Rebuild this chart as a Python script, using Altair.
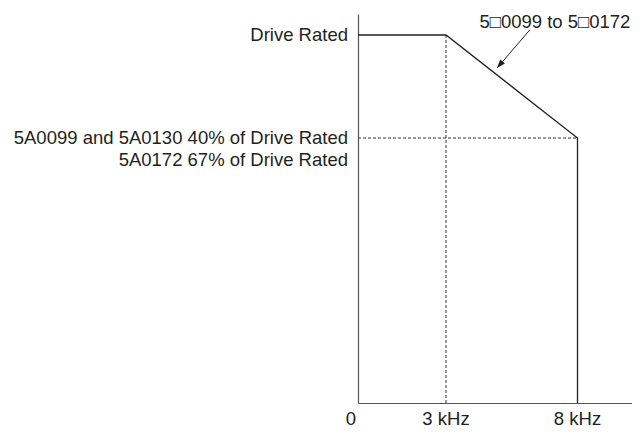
import altair as alt
import pandas as pd

# Schematic derating curve (x in kHz, y in % of the drawing height units)
curve_x = [0, 3, 8, 8]
curve_y = [100, 100, 72, 0]
curve_order = [0, 1, 2, 3]

# x scale is schematic (not to scale in the original)
x_domain = [0, 3, 8, 10.07]
x_range = [0, 88, 219.5, 274]
y_domain = [0, 105.7]

rated_level = 100
derated_level = 72
corner_khz = 3
max_khz = 8

tick_values = [3, 8]
tick_labels = ["3 kHz", "8 kHz"]

left_label_y = [100, 72]
left_label_text = [["Drive Rated"],
                   ["5A0099 and 5A0130 40% of Drive Rated", "5A0172 67% of Drive Rated"]]

note_text = "5\u25a10099 to 5\u25a10172"
arrow_x = [6.19, 4.94]
arrow_y = [101.4, 91]
note_x = 7.14
note_y = 103.6

FONT = "Liberation Sans"
TXT = "#231f20"
FS = 18.5

xs = alt.Scale(domain=x_domain, range=x_range, nice=False, zero=False)
ys = alt.Scale(domain=y_domain, nice=False, zero=False)
xax = alt.Axis(labels=False, ticks=False, grid=False, title=None, domainColor="#555555", domainWidth=1.2)
yax = alt.Axis(labels=False, ticks=False, grid=False, title=None, domainColor="#555555", domainWidth=1.2)

curve_df = pd.DataFrame({"x": curve_x, "y": curve_y, "o": curve_order})
curve = alt.Chart(curve_df).mark_line(color="#231f20", strokeWidth=1.3).encode(
    x=alt.X("x:Q", scale=xs, axis=xax),
    y=alt.Y("y:Q", scale=ys, axis=yax),
    order="o:Q",
)

vdash = alt.Chart(pd.DataFrame({"x": [corner_khz], "y": [0], "y2": [rated_level]})).mark_rule(
    color="#333333", strokeWidth=1, strokeDash=[3, 2]
).encode(x=alt.X("x:Q", scale=xs), y=alt.Y("y:Q", scale=ys), y2="y2:Q")

hdash = alt.Chart(pd.DataFrame({"x": [0], "x2": [max_khz], "y": [derated_level]})).mark_rule(
    color="#333333", strokeWidth=1, strokeDash=[3, 2]
).encode(x=alt.X("x:Q", scale=xs), x2="x2:Q", y=alt.Y("y:Q", scale=ys))

left_df = pd.DataFrame({"y": left_label_y, "t": left_label_text, "x": [0, 0]})
left = alt.Chart(left_df).mark_text(
    align="right", baseline="middle", dx=-10, font=FONT, fontSize=FS, color=TXT, lineHeight=22
).encode(x=alt.X("x:Q", scale=xs), y=alt.Y("y:Q", scale=ys), text="t")

tick_df = pd.DataFrame({"x": tick_values, "t": tick_labels, "y": [0, 0]})
ticks = alt.Chart(tick_df).mark_text(
    align="center", baseline="middle", dy=16, font=FONT, fontSize=FS, color=TXT
).encode(x=alt.X("x:Q", scale=xs), y=alt.Y("y:Q", scale=ys), text="t")

zero = alt.Chart(pd.DataFrame({"x": [0], "y": [0], "t": ["0"]})).mark_text(
    align="center", baseline="middle", dy=16, dx=-7, font=FONT, fontSize=FS, color=TXT
).encode(x=alt.X("x:Q", scale=xs), y=alt.Y("y:Q", scale=ys), text="t")

arrow_df = pd.DataFrame({"x": arrow_x, "y": arrow_y, "o": [0, 1]})
arrow_line = alt.Chart(arrow_df).mark_line(color="#231f20", strokeWidth=1).encode(
    x=alt.X("x:Q", scale=xs), y=alt.Y("y:Q", scale=ys), order="o:Q"
)
head = alt.Chart(pd.DataFrame({"x": [arrow_x[1]], "y": [arrow_y[1]]})).mark_point(
    shape="M0,0L-0.35,1L0.35,1Z", filled=True, color="#231f20", size=300, angle=220, opacity=1
).encode(x=alt.X("x:Q", scale=xs), y=alt.Y("y:Q", scale=ys))

note = alt.Chart(pd.DataFrame({"x": [note_x], "y": [note_y], "t": [note_text]})).mark_text(
    align="center", baseline="middle", font=FONT, fontSize=FS, color=TXT
).encode(x=alt.X("x:Q", scale=xs), y=alt.Y("y:Q", scale=ys), text="t")

chart = alt.layer(hdash, vdash, curve, arrow_line, head, left, ticks, zero, note).properties(
    width=274, height=389,
    autosize=alt.AutoSizeParams(type="none"),
    padding={"left": 350, "top": 6, "right": 0, "bottom": 25},
).configure_view(stroke=None)

chart.save("out.html", embed_options={"renderer": "svg", "actions": False})
